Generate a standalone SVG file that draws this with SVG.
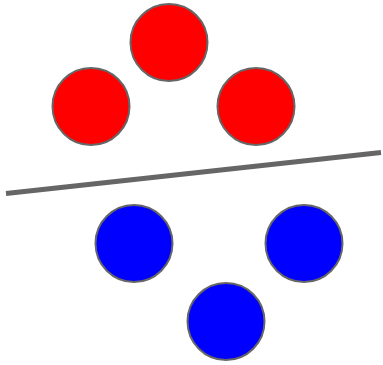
<svg xmlns="http://www.w3.org/2000/svg" width="383" height="365" viewBox="0 0 383 365">
<style>
.red{fill:#ff0000;stroke:#666666;stroke-width:2}
.blue{fill:#0000ff;stroke:#666666;stroke-width:2}
.sep{stroke:#666666;stroke-width:5;fill:none}
</style>
<rect width="383" height="365" fill="#ffffff"/>
<g id="connectors">
<line class="sep" x1="6" y1="193.5" x2="381" y2="152.5"/>
</g>
<g id="r1"><circle class="red" cx="169" cy="42.5" r="38.5"/></g>
<g id="r2"><circle class="red" cx="91" cy="106.5" r="38.5"/></g>
<g id="r3"><circle class="red" cx="256" cy="106.5" r="38.5"/></g>
<g id="b1"><circle class="blue" cx="134" cy="243.5" r="38.5"/></g>
<g id="b2"><circle class="blue" cx="304" cy="243.5" r="38.5"/></g>
<g id="b3"><circle class="blue" cx="226" cy="321.5" r="38.5"/></g>
</svg>
